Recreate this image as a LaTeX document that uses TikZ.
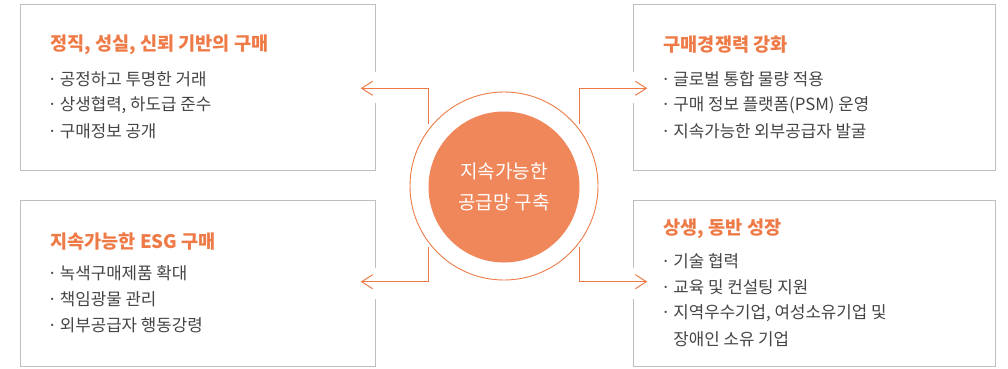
\documentclass[tikz,border=0pt]{standalone}
\usepackage{fontspec}
\setmainfont{Noto Sans CJK KR}
\usetikzlibrary{calc,arrows.meta}

\definecolor{hubfill}{HTML}{F0875A}
\definecolor{accent}{HTML}{EE7B47}
\definecolor{frame}{HTML}{BEBEBE}
\definecolor{bodytext}{HTML}{444444}

\tikzset{
	panel/.style={minimum width=355pt, minimum height=165.7pt, inner sep=0pt},
	boxline/.style={draw=frame, line width=1pt},
	title/.style={anchor=west, inner sep=0pt, text=accent, font=\fontsize{18.6}{22}\selectfont\bfseries},
	item/.style={anchor=west, inner sep=0pt, text=bodytext, font=\fontsize{16.8}{18}\selectfont},
	flow/.style={draw=accent, line width=1pt, -{Straight Barb[length=11pt,width=14pt]}},
}

\begin{document}
\begin{tikzpicture}[x=1pt,y=-1pt]

	%Canvas of the reference, 1008 x 368
	\useasboundingbox (0,0) rectangle (1008,368);

	%Column of the titles, of the items and line step of the items
	\pgfmathsetmacro{\lx}{50}
	\pgfmathsetmacro{\rx}{663.5}
	\pgfmathsetmacro{\li}{\lx-2.5}
	\pgfmathsetmacro{\ri}{\rx-2.5}
	\pgfmathsetmacro{\dy}{26}

	%The four panels (outline drawn below, with a gap for the arrow)
	\node[panel] (tlbox) at (198.2,87.2) {};
	\node[panel] (blbox) at (198.2,283.5) {};
	\node[panel, minimum width=362.4pt] (trbox) at (814.5,87.2) {};
	\node[panel, minimum width=362.4pt] (brbox) at (814.5,283.5) {};

	\draw[boxline] ($(tlbox.east)+(0,-15.5)$) -- (tlbox.north east) -- (tlbox.north west) -- (tlbox.south west) -- (tlbox.south east) -- ($(tlbox.east)+(0,15.5)$);
	\draw[boxline] ($(blbox.east)+(0,-15.5)$) -- (blbox.north east) -- (blbox.north west) -- (blbox.south west) -- (blbox.south east) -- ($(blbox.east)+(0,15.5)$);
	\draw[boxline] ($(trbox.west)+(0,-15.5)$) -- (trbox.north west) -- (trbox.north east) -- (trbox.south east) -- (trbox.south west) -- ($(trbox.west)+(0,15.5)$);
	\draw[boxline] ($(brbox.west)+(0,-15.5)$) -- (brbox.north west) -- (brbox.north east) -- (brbox.south east) -- (brbox.south west) -- ($(brbox.west)+(0,15.5)$);

	%Hub in the middle
	\node[circle, fill=hubfill, minimum size=151pt, inner sep=0pt, text=white, align=center,
		font=\fontsize{19}{31.5}\selectfont] (hub) at (504,187) {지속가능한\\공급망 구축};
	\node[circle, draw=accent, line width=0.9pt, minimum size=188pt, inner sep=0pt] (ring) at (504,186) {};

	%Arrows from the ring out to the panels
	\coordinate (tlfoot) at (428.3,124);
	\coordinate (tltip) at (360.7,88.3);
	\coordinate (blfoot) at (428.3,246.7);
	\coordinate (bltip) at (360.7,281.7);
	\coordinate (trfoot) at (579.3,124);
	\coordinate (trtip) at (647.3,88.3);
	\coordinate (brfoot) at (579.3,246.7);
	\coordinate (brtip) at (647.3,281.7);

	\draw[flow] (tlfoot) |- (tltip);
	\draw[flow] (blfoot) |- (bltip);
	\draw[flow] (trfoot) |- (trtip);
	\draw[flow] (brfoot) |- (brtip);

	%Top left panel
	\node[title] (tltitle) at (\lx,45) {정직, 성실, 신뢰 기반의 구매};
	\node[item] (tl1) at (\li,79) {·\,공정하고 투명한 거래};
	\node[item] (tl2) at (\li,79+\dy) {·\,상생협력, 하도급 준수};
	\node[item] (tl3) at (\li,79+2*\dy) {·\,구매정보 공개};

	%Bottom left panel
	\node[title] (bltitle) at (\lx,241.7) {지속가능한 ESG 구매};
	\node[item] (bl1) at (\li,273.5) {·\,녹색구매제품 확대};
	\node[item] (bl2) at (\li,273.5+\dy) {·\,책임광물 관리};
	\node[item] (bl3) at (\li,273.5+2*\dy) {·\,외부공급자 행동강령};

	%Top right panel
	\node[title] (trtitle) at (\rx,45) {구매경쟁력 강화};
	\node[item] (tr1) at (\ri,79.5) {·\,글로벌 통합 물량 적용};
	\node[item] (tr2) at (\ri,79.5+\dy) {·\,구매 정보 플랫폼(PSM) 운영};
	\node[item] (tr3) at (\ri,79.5+2*\dy) {·\,지속가능한 외부공급자 발굴};

	%Bottom right panel
	\node[title] (brtitle) at (\rx,228.3) {상생, 동반 성장};
	\node[item] (br1) at (\ri,261.5) {·\,기술 협력};
	\node[item] (br2) at (\ri,261.5+\dy) {·\,교육 및 컨설팅 지원};
	\node[item] (br3) at (\ri,261.5+2*\dy) {·\,지역우수기업, 여성소유기업 및};
	\node[item] (br4) at (\ri,261.5+3*\dy) {\hphantom{·\,}장애인 소유 기업};

\end{tikzpicture}
\end{document}
